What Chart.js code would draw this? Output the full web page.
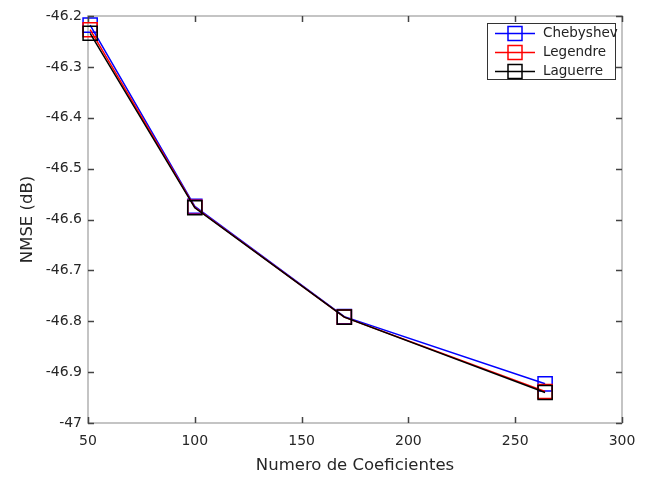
<!DOCTYPE html>
<html>
<head>
<meta charset="utf-8">
<script src="https://cdn.jsdelivr.net/npm/chart.js@4"></script>
<style>
html,body{margin:0;padding:0;background:#fff;}
#wrap{width:651px;height:477px;}
</style>
</head>
<body>
<div id="wrap"><canvas id="c" width="651" height="477"></canvas></div>
<script>
const xValues = [51, 100, 170, 264];
const chebyshev = [-46.218, -46.574, -46.791, -46.923];
const legendre = [-46.227, -46.576, -46.792, -46.938];
const laguerre = [-46.234, -46.577, -46.792, -46.940];
const seriesNames = ['Chebyshev', 'Legendre', 'Laguerre'];
const seriesColors = ['#0000ff', '#ff0000', '#000000'];
const xTicks = [50, 100, 150, 200, 250, 300];
const yTicks = [-47, -46.9, -46.8, -46.7, -46.6, -46.5, -46.4, -46.3, -46.2];

const FONT = 'DejaVu Sans';
const allSeries = [chebyshev, legendre, laguerre];

const datasets = allSeries.map((s, i) => ({
  label: seriesNames[i],
  data: xValues.map((x, j) => ({x: x, y: s[j]})),
  order: allSeries.length - i,
  clip: false,
  borderColor: seriesColors[i],
  backgroundColor: 'rgba(0,0,0,0)',
  borderWidth: 1.5,
  pointStyle: 'rect',
  pointRadius: 10,
  pointBorderWidth: 1.5,
  pointHoverRadius: 10,
  pointBorderColor: seriesColors[i],
  pointBackgroundColor: 'rgba(0,0,0,0)',
  tension: 0
}));

const framePlugin = {
  id: 'frame',
  beforeDatasetsDraw(chart) {
    const {ctx, chartArea: a} = chart;
    ctx.save();
    ctx.strokeStyle = '#c4c4c4';
    ctx.lineWidth = 2;
    ctx.strokeRect(a.left, a.top, a.right - a.left, a.bottom - a.top);
    ctx.restore();
  },
  afterDatasetsDraw(chart) {
    const {ctx, chartArea: a, scales} = chart;
    ctx.save();
    ctx.strokeStyle = '#444';
    ctx.lineWidth = 1.5;
    const tl = 6;
    xTicks.forEach(v => {
      const px = Math.round(scales.x.getPixelForValue(v)) + 0.5;
      ctx.beginPath();
      ctx.moveTo(px, a.bottom); ctx.lineTo(px, a.bottom - tl);
      ctx.moveTo(px, a.top); ctx.lineTo(px, a.top + tl);
      ctx.stroke();
    });
    yTicks.forEach(v => {
      const py = Math.round(scales.y.getPixelForValue(v)) + 0.5;
      ctx.beginPath();
      ctx.moveTo(a.left, py); ctx.lineTo(a.left + tl, py);
      ctx.moveTo(a.right, py); ctx.lineTo(a.right - tl, py);
      ctx.stroke();
    });
    // legend
    const bx = 487, by = 23, bw = 128, bh = 56;
    ctx.fillStyle = '#fff';
    ctx.fillRect(bx, by, bw, bh);
    ctx.strokeStyle = '#333';
    ctx.lineWidth = 1;
    ctx.strokeRect(bx + 0.5, by + 0.5, bw, bh);
    ctx.font = '13.5px ' + FONT;
    ctx.textBaseline = 'middle';
    ctx.textAlign = 'left';
    chart.data.datasets.forEach((ds, i) => {
      const y = by + 10.5 + i * 19;
      ctx.strokeStyle = ds.borderColor;
      ctx.lineWidth = 1.5;
      ctx.beginPath();
      ctx.moveTo(bx + 8, y); ctx.lineTo(bx + 48, y);
      ctx.stroke();
      ctx.strokeRect(bx + 21, y - 7, 14, 14);
      ctx.fillStyle = '#222';
      ctx.fillText(ds.label, bx + 56, y);
    });
    ctx.restore();
  }
};

new Chart(document.getElementById('c'), {
  type: 'line',
  data: {datasets},
  plugins: [framePlugin],
  options: {
    responsive: false,
    animation: false,
    devicePixelRatio: 1,
    layout: {padding: {left: 0, top: 16, right: 29, bottom: 0}},
    plugins: {legend: {display: false}, tooltip: {enabled: false}},
    scales: {
      x: {
        type: 'linear',
        min: 50, max: 300,
        afterBuildTicks(s) { s.ticks = xTicks.map(v => ({value: v})); },
        afterFit(s) { s.height = 54; },
        grid: {display: false, drawTicks: false},
        border: {display: false},
        ticks: {color: '#262626', font: {family: FONT, size: 14}, padding: 10, maxRotation: 0},
        title: {display: true, text: 'Numero de Coeficientes', color: '#262626', font: {family: FONT, size: 16.5}, padding: {top: 0, bottom: 1}}
      },
      y: {
        type: 'linear',
        min: -47, max: -46.2,
        afterBuildTicks(s) { s.ticks = yTicks.map(v => ({value: v})); },
        afterFit(s) { s.width = 88; },
        grid: {display: false, drawTicks: false},
        border: {display: false},
        ticks: {color: '#262626', font: {family: FONT, size: 14}, padding: 6,
          callback: v => String(Math.round(v * 10) / 10)},
        title: {display: true, text: 'NMSE (dB)', color: '#262626', font: {family: FONT, size: 16.5}, padding: {top: 18, bottom: 0}}
      }
    }
  }
});
</script>
</body>
</html>
